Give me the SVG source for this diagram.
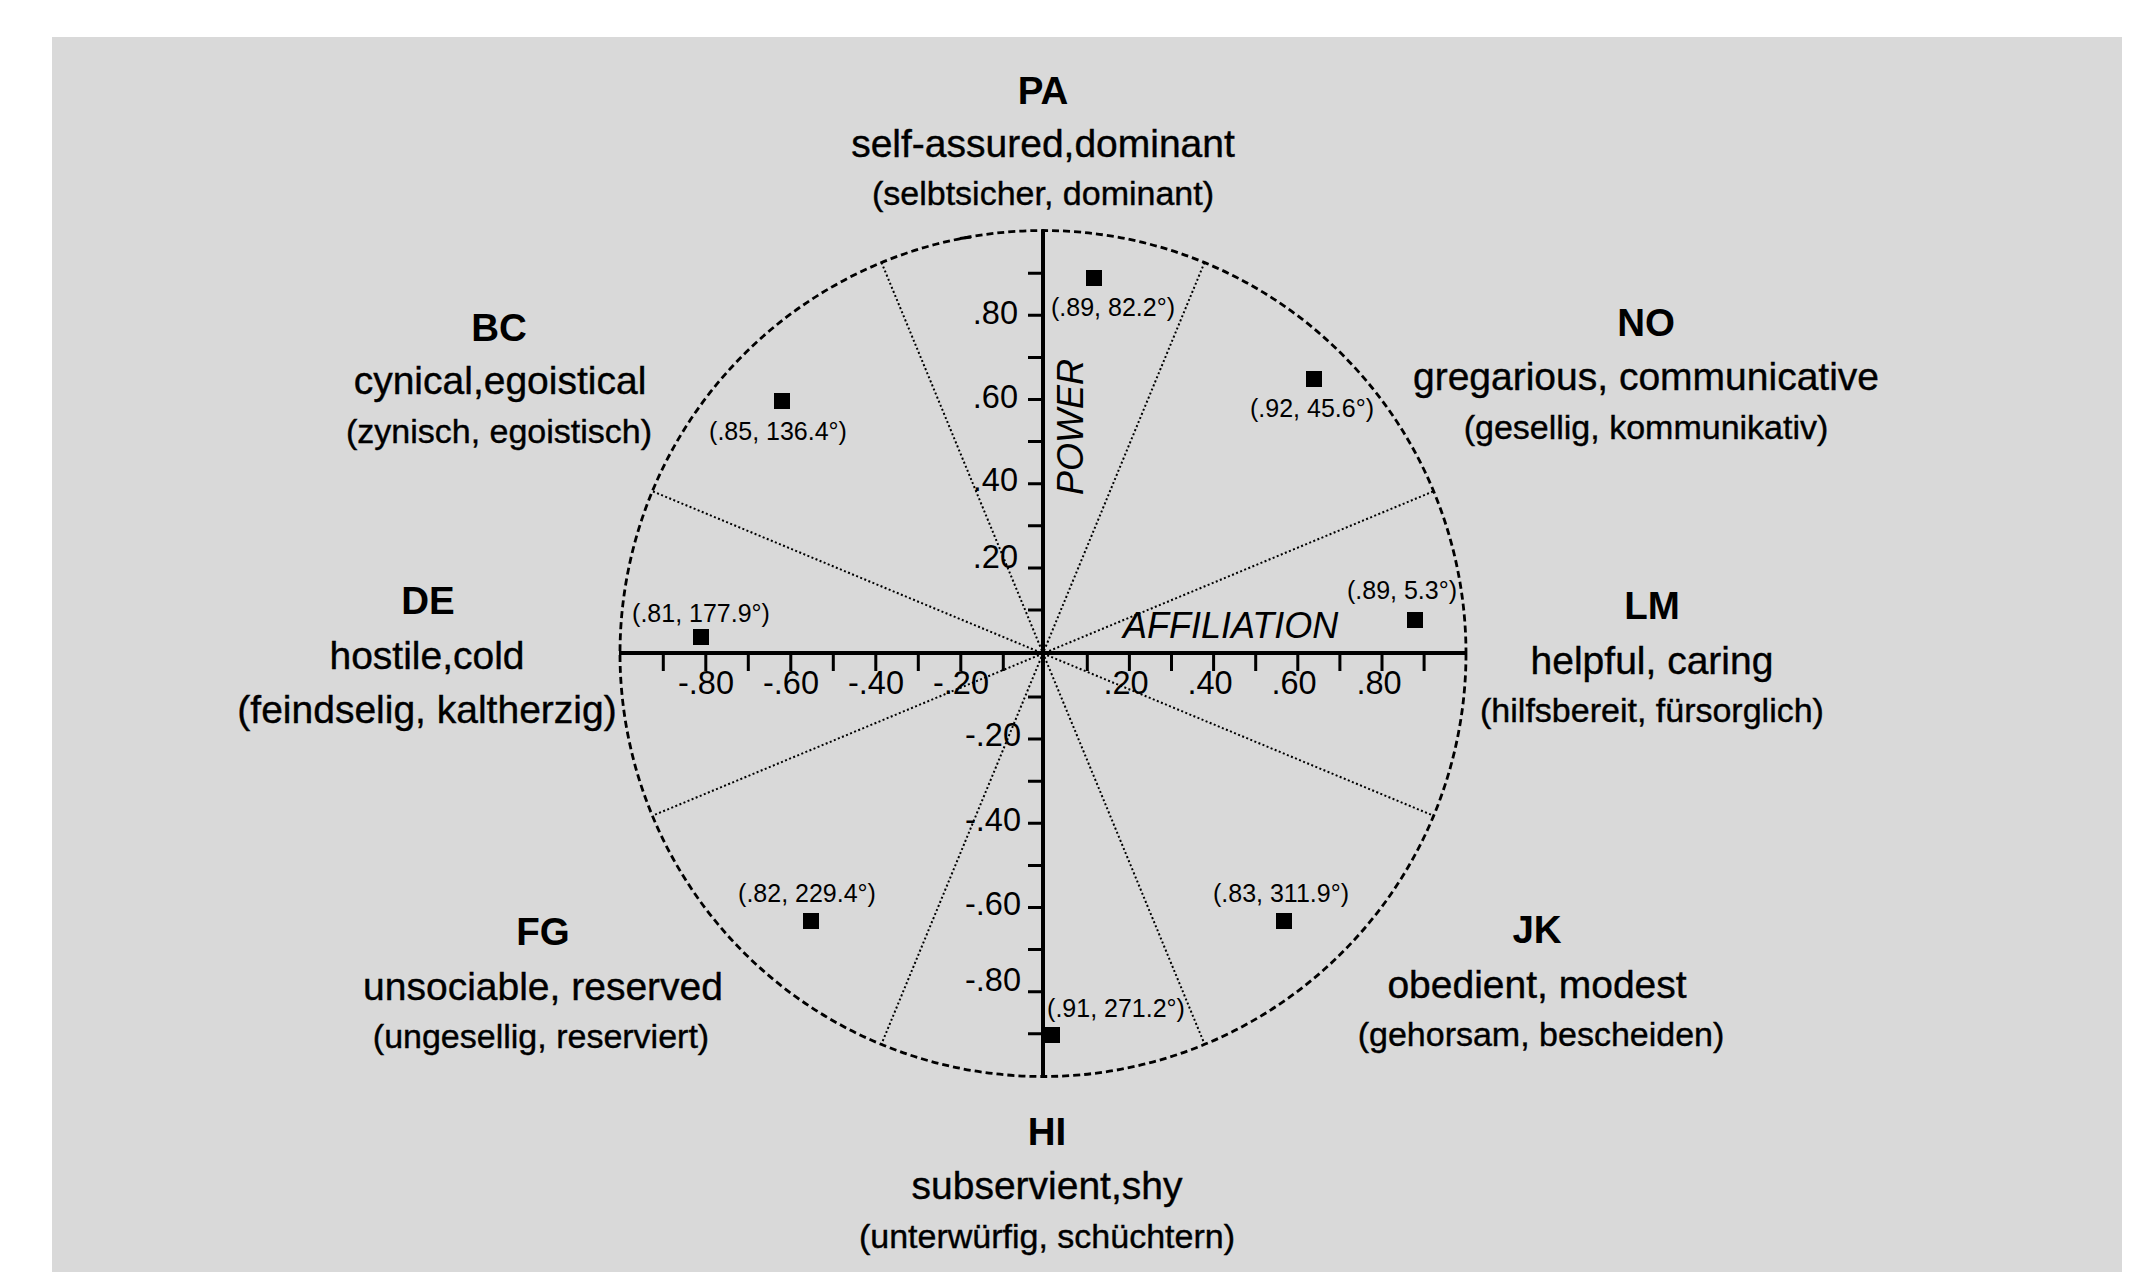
<svg xmlns="http://www.w3.org/2000/svg" width="2154" height="1272" viewBox="0 0 2154 1272">
<style>
text{font-family:"Liberation Sans",Arial,sans-serif;fill:#000}
.b{font-weight:bold;font-size:38.5px;text-anchor:middle}
.l2{font-size:39px;text-anchor:middle;stroke:#000;stroke-width:0.4}
.l3{font-size:34px;text-anchor:middle;stroke:#000;stroke-width:0.4}
.num{font-size:32.5px}
.hn{text-anchor:middle}
.vn{text-anchor:end}
.pt{font-size:25px;text-anchor:middle}
.ax{font-size:36px;font-style:italic}
.axis{stroke:#000;stroke-width:4;fill:none}
.tick{stroke:#000;stroke-width:3;fill:none}
.dot{stroke:#000;stroke-width:2;stroke-dasharray:2 2.4;fill:none}
.circ{stroke:#000;stroke-width:2.8;stroke-dasharray:7 4;fill:none}
.sq{fill:#000}
</style>
<rect x="52" y="37" width="2070" height="1235" fill="#d9d9d9"/>
<g id="connectors">
<circle class="circ" cx="1043" cy="653.5" r="423"/>
<line class="tick" x1="960" y1="238.5" x2="971" y2="237"/>
<line class="dot" x1="1433" y1="491.5" x2="653" y2="815.5"/>
<line class="dot" x1="1204.5" y1="262.5" x2="881.5" y2="1044"/>
<line class="dot" x1="881.5" y1="262.5" x2="1204.5" y2="1044"/>
<line class="dot" x1="653" y1="491.5" x2="1433" y2="815.5"/>
<line class="axis" x1="1043" y1="230" x2="1043" y2="1078"/>
<line class="axis" x1="619" y1="653" x2="1467" y2="653"/>
<path class="tick" d="M663.3 653V671M705.8 653V671M748.3 653V671M790.8 653V671M833.3 653V671M875.8 653V671M918.3 653V671M960.8 653V671M1003.3 653V671M1087.3 653V671M1129.4 653V671M1171.5 653V671M1213.6 653V671M1255.7 653V671M1297.8 653V671M1339.9 653V671M1382 653V671M1424.1 653V671"/>
<path class="tick" d="M1028 273.2H1043M1028 315.3H1043M1028 357.4H1043M1028 399.5H1043M1028 441.6H1043M1028 483.7H1043M1028 525.8H1043M1028 567.9H1043M1028 610H1043M1028 697H1043M1028 739.1H1043M1028 781.2H1043M1028 823.3H1043M1028 865.4H1043M1028 907.5H1043M1028 949.6H1043M1028 991.7H1043M1028 1033.8H1043"/>
</g>
<g id="axis-labels">
<text class="num hn" x="706" y="694">-.80</text>
<text class="num hn" x="791" y="694">-.60</text>
<text class="num hn" x="876" y="694">-.40</text>
<text class="num hn" x="961" y="694">-.20</text>
<text class="num hn" x="1126" y="694">.20</text>
<text class="num hn" x="1210" y="694">.40</text>
<text class="num hn" x="1294" y="694">.60</text>
<text class="num hn" x="1379" y="694">.80</text>
<text class="num vn" x="1018" y="324">.80</text>
<text class="num vn" x="1018" y="408">.60</text>
<text class="num vn" x="1018" y="491">.40</text>
<text class="num vn" x="1018" y="568">.20</text>
<text class="num vn" x="1021" y="746">-.20</text>
<text class="num vn" x="1021" y="831">-.40</text>
<text class="num vn" x="1021" y="915">-.60</text>
<text class="num vn" x="1021" y="991">-.80</text>
<text class="ax" x="1123" y="638">AFFILIATION</text>
<text class="ax" text-anchor="middle" transform="translate(1083,427) rotate(-90)">POWER</text>
</g>
<g id="pt-pa"><rect class="sq" x="1086" y="270" width="16" height="16"/><text class="pt" x="1113" y="316">(.89, 82.2°)</text></g>
<g id="pt-no"><rect class="sq" x="1306" y="371" width="16" height="16"/><text class="pt" x="1312" y="417">(.92, 45.6°)</text></g>
<g id="pt-lm"><rect class="sq" x="1407" y="612" width="16" height="16"/><text class="pt" x="1402" y="599">(.89, 5.3°)</text></g>
<g id="pt-jk"><rect class="sq" x="1276" y="913" width="16" height="16"/><text class="pt" x="1281" y="902">(.83, 311.9°)</text></g>
<g id="pt-hi"><rect class="sq" x="1044" y="1027" width="16" height="16"/><text class="pt" x="1116" y="1017">(.91, 271.2°)</text></g>
<g id="pt-fg"><rect class="sq" x="803" y="913" width="16" height="16"/><text class="pt" x="807" y="902">(.82, 229.4°)</text></g>
<g id="pt-de"><rect class="sq" x="693" y="629" width="16" height="16"/><text class="pt" x="701" y="622">(.81, 177.9°)</text></g>
<g id="pt-bc"><rect class="sq" x="774" y="393" width="16" height="16"/><text class="pt" x="778" y="440">(.85, 136.4°)</text></g>
<g id="node-pa"><text class="b" x="1043" y="104">PA</text><text class="l2" x="1043" y="157">self-assured,dominant</text><text class="l3" x="1043" y="205">(selbtsicher, dominant)</text></g>
<g id="node-bc"><text class="b" x="499" y="341">BC</text><text class="l2" x="500" y="394">cynical,egoistical</text><text class="l3" x="499" y="443">(zynisch, egoistisch)</text></g>
<g id="node-no"><text class="b" x="1646" y="336">NO</text><text class="l2" x="1646" y="390">gregarious, communicative</text><text class="l3" x="1646" y="439">(gesellig, kommunikativ)</text></g>
<g id="node-de"><text class="b" x="428" y="614">DE</text><text class="l2" x="427" y="669">hostile,cold</text><text class="l2" x="427" y="723">(feindselig, kaltherzig)</text></g>
<g id="node-lm"><text class="b" x="1652" y="619">LM</text><text class="l2" x="1652" y="674">helpful, caring</text><text class="l3" x="1652" y="722">(hilfsbereit, fürsorglich)</text></g>
<g id="node-fg"><text class="b" x="543" y="945">FG</text><text class="l2" x="543" y="1000">unsociable, reserved</text><text class="l3" x="541" y="1048">(ungesellig, reserviert)</text></g>
<g id="node-jk"><text class="b" x="1537" y="943">JK</text><text class="l2" x="1537" y="998">obedient, modest</text><text class="l3" x="1541" y="1046">(gehorsam, bescheiden)</text></g>
<g id="node-hi"><text class="b" x="1047" y="1145">HI</text><text class="l2" x="1047" y="1199">subservient,shy</text><text class="l3" x="1047" y="1248">(unterwürfig, schüchtern)</text></g>
</svg>
